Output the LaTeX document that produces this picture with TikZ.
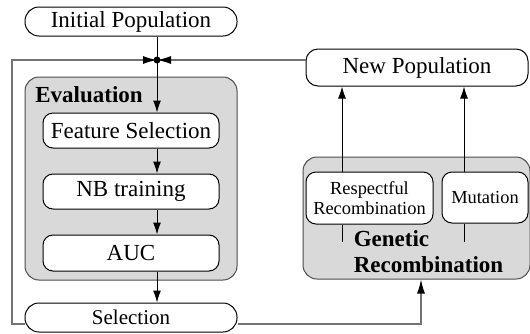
\documentclass[tikz,border=0pt]{standalone}
\usepackage{fontspec}
\setmainfont{Liberation Serif}
\usetikzlibrary{arrows.meta}

\newcommand{\flowfont}{\fontsize{11.5}{13}\selectfont}
\newcommand{\selfont}{\fontsize{10.5}{12}\selectfont}
\newcommand{\subfont}{\fontsize{9.2}{10}\selectfont}

\tikzset{
  box/.style={draw,fill=white,rounded corners=5pt,inner sep=0pt,line width=0.5pt,font=\flowfont},
  group/.style={draw=black!70,fill=black!15,rounded corners=7pt,inner sep=0pt,line width=0.5pt},
  flow/.style={-{Latex[length=6pt,width=4pt]},line width=0.5pt},
  back/.style={draw=black!55,line width=0.6pt,-{Latex[length=7pt,width=4pt,color=black]}},
}

\begin{document}
\begin{tikzpicture}[x=0.5pt,y=-0.5pt]
\useasboundingbox (0,0) rectangle (530,333);

% evaluation
\node[group,minimum width=106pt,minimum height=101.5pt] (eval) at (131,178.5) {};
\node[font=\bfseries\flowfont,anchor=west,inner sep=0pt] (evallabel) at (35,95) {Evaluation};
\node[box,minimum width=88pt,minimum height=17.5pt] (fs) at (131,130.5) {Feature Selection};
\node[box,minimum width=88pt,minimum height=17.5pt] (nb) at (131,191.5) {NB training};
\node[box,minimum width=88pt,minimum height=18pt] (auc) at (131,253) {AUC};

% genetic recombination
\node[group,minimum width=113.5pt,minimum height=61pt] (gen) at (416.5,218) {};
\node[box,font=\subfont,align=center,minimum width=63.5pt,minimum height=26pt] (rr) at (369.5,198) {Respectful\\Recombination};
\node[box,font=\subfont,minimum width=43pt,minimum height=25.5pt] (mut) at (485,197.5) {Mutation};
\node[font=\bfseries\flowfont,align=left,inner sep=0pt] (genlabel) at (428.5,252) {Genetic\\Recombination};

% populations and selection
\node[box,rounded corners=7pt,minimum width=106pt,minimum height=14.5pt] (init) at (131,21.5) {Initial Population};
\node[box,rounded corners=6pt,minimum width=111pt,minimum height=18.5pt] (np) at (417,67.5) {New Population};
\node[box,rounded corners=7pt,font=\selfont,minimum width=106pt,minimum height=14.5pt] (sel) at (131,317.5) {Selection};

% connectors
\coordinate (jn) at (157,60);
\coordinate (sw) at (12,324);
\coordinate (ra) at (342,242);
\coordinate (ma) at (464,242);

\draw[line width=0.5pt] (init.south -| jn) -- (jn);
\draw[flow] (jn) -- (jn |- fs.north);
\draw[flow] (jn |- fs.south) -- (jn |- nb.north);
\draw[flow] (jn |- nb.south) -- (jn |- auc.north);
\draw[flow] (jn |- auc.south) -- (jn |- sel.north);

\draw[back] (sel.west |- sw) -- (sw) |- (jn);
\draw[back] (np.west |- jn) -- (jn);
\fill (jn) circle (1.75pt);
\draw[back] (sel.east |- sw) -| ([xshift=2.25pt]gen.south);

\draw[line width=0.5pt] (ra) -- (ra |- rr.south);
\draw[line width=0.5pt] (ma) -- (ma |- mut.south);
\draw[flow] (ra |- rr.north) -- (ra |- np.south);
\draw[flow] (ma |- mut.north) -- (ma |- np.south);
\end{tikzpicture}
\end{document}
